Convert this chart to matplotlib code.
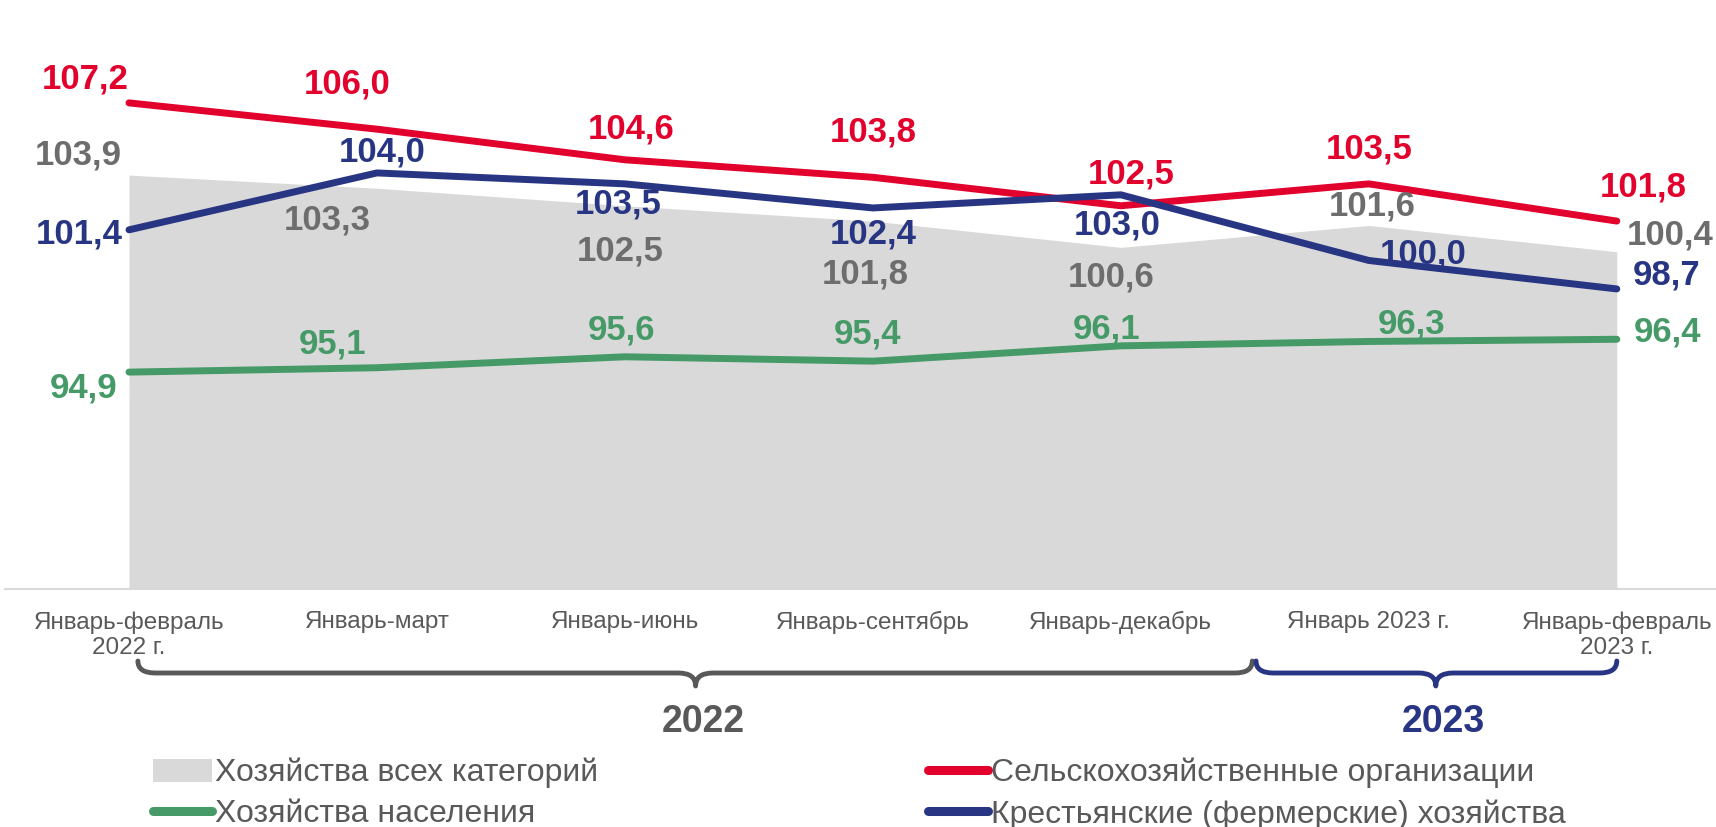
import matplotlib
matplotlib.use("Agg")
import matplotlib.pyplot as plt
from matplotlib.path import Path
from matplotlib.patches import PathPatch, Patch
from matplotlib.lines import Line2D
import matplotlib.transforms as mtransforms

categories = ["Январь-февраль\n2022 г.", "Январь-март", "Январь-июнь", "Январь-сентябрь",
              "Январь-декабрь", "Январь 2023 г.", "Январь-февраль\n2023 г."]
all_cat = [103.9, 103.3, 102.5, 101.8, 100.6, 101.6, 100.4]
agri_org = [107.2, 106.0, 104.6, 103.8, 102.5, 103.5, 101.8]
farms = [101.4, 104.0, 103.5, 102.4, 103.0, 100.0, 98.7]
households = [94.9, 95.1, 95.6, 95.4, 96.1, 96.3, 96.4]

legend_labels = ["Хозяйства всех категорий", "Хозяйства населения",
                 "Сельскохозяйственные организации", "Крестьянские (фермерские) хозяйства"]
year_labels = ["2022", "2023"]

C_GREY_FILL = "#D9D9D9"
C_GREY_TXT = "#6D6D6D"
C_DARK = "#595959"
C_RED = "#E2002D"
C_BLUE = "#283583"
C_GREEN = "#459A67"

plt.rcParams['font.family'] = ['Liberation Sans', 'DejaVu Sans']

fig = plt.figure(figsize=(17.16, 8.27), dpi=100)
ax = fig.add_axes([5/1716, (827-588.8)/827, 1711/1716, (588.8-41.6)/827])
x = list(range(len(categories)))

ax.fill_between(x, 85, all_cat, color=C_GREY_FILL, lw=0, zorder=1)
ax.plot(x, households, color=C_GREEN, lw=5, solid_capstyle='round', solid_joinstyle='round', zorder=3)
ax.plot(x, agri_org, color=C_RED, lw=5, solid_capstyle='round', solid_joinstyle='round', zorder=3)
ax.plot(x, farms, color=C_BLUE, lw=5, solid_capstyle='round', solid_joinstyle='round', zorder=4)

ax.set_xlim(-0.5, 6.40)
ax.set_ylim(85, 110)
for s in ['top', 'right', 'left']:
    ax.spines[s].set_visible(False)
ax.spines['bottom'].set_color(C_GREY_FILL)
ax.spines['bottom'].set_linewidth(1.5)
ax.set_yticks([])
ax.set_xticks(x)
ax.set_xticklabels(categories, fontsize=17.5, color=C_DARK, linespacing=1.2)
ax.tick_params(axis='x', length=0, pad=16)

def fmt(v):
    return f"{v:.1f}".replace('.', ',')

# label offsets in pixels (dx right, dy up)
off_red = [(-44, 24), (-30, 45), (6, 31), (0, 45), (10, 32), (0, 35), (26, 34)]
off_grey = [(-51, 20), (-50, -32), (-5, -45), (-8, -53), (-10, -30), (3, 19), (53, 17)]
off_blue = [(-50, -4), (5, 21), (-7, -20), (0, -26), (-4, -30), (54, 6), (50, 14)]
off_green = [(-45, -16), (-44, 24), (-3, 27), (-5, 27), (-14, 17), (43, 17), (51, 7)]

for vals, offs, col in [(all_cat, off_grey, C_GREY_TXT), (agri_org, off_red, C_RED),
                        (farms, off_blue, C_BLUE), (households, off_green, C_GREEN)]:
    for xi, v, (dx, dy) in zip(x, vals, offs):
        ax.annotate(fmt(v), (xi, v), xytext=(dx, dy), textcoords='offset pixels',
                    ha='center', va='center', fontsize=25, fontweight='bold', color=col, zorder=6)

# overlay for braces (y in figure pixels from top)
over = fig.add_axes([0, 0, 1, 1], facecolor='none')
over.set_ylim(827, 0)
over.set_xlim(0, 1716)
over.axis('off')
trans = mtransforms.blended_transform_factory(ax.transData, over.transData)

def brace(x0, x1, xm, color):
    top, mid, tip = 661, 673, 686
    r = 0.07
    verts = [(x0, top), (x0, mid), (x0 + r, mid),
             (xm - r, mid), (xm, mid), (xm, tip),
             (xm, mid), (xm + r, mid),
             (x1 - r, mid), (x1, mid), (x1, top)]
    codes = [Path.MOVETO, Path.CURVE3, Path.CURVE3,
             Path.LINETO, Path.CURVE3, Path.CURVE3,
             Path.CURVE3, Path.CURVE3,
             Path.LINETO, Path.CURVE3, Path.CURVE3]
    p = PathPatch(Path(verts, codes), transform=trans, fill=False, edgecolor=color,
                  lw=3.5, capstyle='round', joinstyle='round', clip_on=False)
    over.add_patch(p)

brace_spans = [(0.036, 4.53, 2.285), (4.545, 6.0, 5.27)]
for lbl, (x0, x1, xm), col in zip(year_labels, brace_spans, [C_DARK, C_BLUE]):
    brace(x0, x1, xm, col)
    over.text(xm + 0.03, 722, lbl, transform=trans, ha='center', va='center', fontsize=27,
              fontweight='bold', color=col)

handles = [Patch(facecolor=C_GREY_FILL, edgecolor='none'),
           Line2D([], [], color=C_GREEN, lw=6.5, solid_capstyle='round'),
           Line2D([], [], color=C_RED, lw=6.5, solid_capstyle='round'),
           Line2D([], [], color=C_BLUE, lw=6.5, solid_capstyle='round')]
leg = fig.legend(handles, legend_labels, ncol=2, loc='upper left',
                 bbox_to_anchor=(153/1716, 1 - 758/827), frameon=False,
                 fontsize=23, handlelength=1.85, handleheight=0.75, handletextpad=0.1,
                 columnspacing=10.33, labelspacing=0.34, borderpad=0, borderaxespad=0)
for t in leg.get_texts():
    t.set_color(C_DARK)

fig.savefig("out.png", dpi=100)
